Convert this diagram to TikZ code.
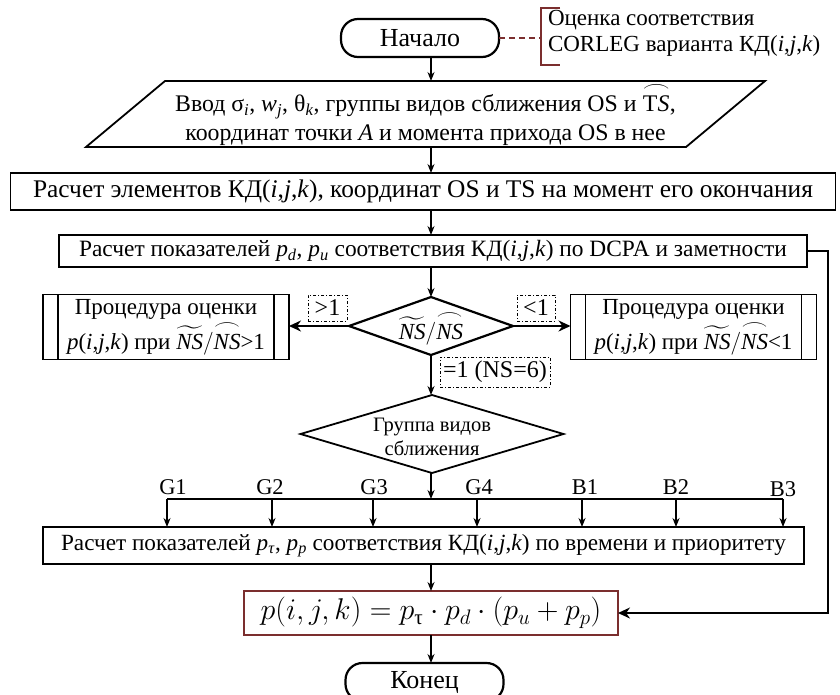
\RequirePackage{fix-cm}
\documentclass[tikz,border=0pt]{standalone}
\usepackage{fontspec}
\usepackage{amsmath}
\setmainfont{Liberation Serif}
\usetikzlibrary{shapes.geometric,arrows.meta}
\definecolor{dred}{HTML}{7B2E2E}
\newcommand{\iv}[2]{\textit{#1}\textsubscript{\textit{#2}}}
\newcommand{\arcover}[1]{\overset{\resizebox{1.15em}{0.28em}{$\frown$}}{#1}}
\newcommand{\nsr}{$\widetilde{\textit{NS}}/\arcover{\textit{NS}}$}
\newcommand{\ijk}{(\textit{i},\textit{j},\textit{k})}
\tikzset{
  every node/.style={inner sep=0pt, outer sep=0pt},
  box/.style={draw, line width=1.8pt, rectangle, align=center},
  term/.style={draw, line width=2.2pt, rounded corners=17pt, minimum width=158pt, minimum height=38pt, font=\fontsize{26}{28}\selectfont},
  conn/.style={line width=1.4pt, -{Stealth[length=9pt,width=7pt]}},
  bigarrow/.style={line width=2.4pt, -{Stealth[length=12pt,width=11pt]}},
  lab/.style={draw, line width=1pt, dash dot, minimum height=26pt, font=\fontsize{24}{26}\selectfont},
  glab/.style={font=\fontsize{22.5}{24}\selectfont},
  proc/.style={box, minimum width=246pt, minimum height=65pt, font=\fontsize{23}{28}\selectfont}
}
\begin{document}
\begin{tikzpicture}[x=1pt,y=-1pt]
\useasboundingbox (0,0) rectangle (840,694);
\clip (0,0) rectangle (840,694);
\fill[white] (0,0) rectangle (840,694);
\coordinate (sp) at (431,0);

% start and annotation
\node[term] (start) at (420,38) {Начало};
\coordinate (brk) at (541,38);
\draw[dred, line width=1.4pt, dash pattern=on 6pt off 4pt] (start.east) -- (brk);
\draw[dred, line width=1.4pt] (brk) ++(19,-30) -- ++(-19,0) -- ++(0,57) -- ++(19,0);
\node[anchor=west, align=left, font=\fontsize{23}{26}\selectfont] (ann) at (548,33) {Оценка соответствия\\CORLEG варианта КД\ijk};

% input parallelogram
\node[align=center, minimum width=679pt, minimum height=66pt, font=\fontsize{23.8}{29}\selectfont] (inp) at (425.5,114)
  {Ввод σ\textsubscript{\textit{i}}, \iv{w}{j}, θ\textsubscript{\textit{k}}, группы видов сближения OS и $\arcover{\text{T\textit{S}}}$,\\координат точки \textit{A} и момента прихода OS в нее};
\draw[line width=1.8pt] ([xshift=79pt]inp.north west) -- (inp.north east) -- ([xshift=-79pt]inp.south east) -- (inp.south west) -- cycle;

% calc boxes
\node[box, minimum width=825pt, minimum height=37pt, font=\fontsize{25.4}{27}\selectfont] (calc1) at (423,191.5)
  {Расчет элементов КД\ijk, координат OS и TS на момент его окончания};
\node[box, minimum width=748pt, minimum height=32pt, font=\fontsize{23.4}{25}\selectfont] (calc2) at (433,251)
  {Расчет показателей \iv{p}{d}, \iv{p}{u} соответствия КД\ijk{} по DCPA и заметности};

% decision 1
\node[draw, diamond, line width=2.2pt, shape aspect=2.8, minimum width=164pt, minimum height=58pt] (d1) at (431,326) {};
\node[font=\fontsize{23}{25}\selectfont] (d1t) at ([yshift=-2pt]d1.center) {\nsr};
\node[proc] (pl) at (166,327) {Процедура оценки\\\textit{p}\ijk{} при \nsr>1};
\node[proc] (pr) at (693.5,327) {Процедура оценки\\\textit{p}\ijk{} при \nsr<1};
\foreach \n in {pl,pr}{
  \draw[line width=1.8pt] ([xshift=15pt]\n.north west) -- ([xshift=15pt]\n.south west);
  \draw[line width=1.8pt] ([xshift=-15pt]\n.north east) -- ([xshift=-15pt]\n.south east);
}
\node[lab, minimum width=39pt] (lgt) at (327.5,308) {>1};
\node[lab, minimum width=38pt] (llt) at (536,308) {<1};
\node[lab, minimum width=110pt, minimum height=30pt] (leq) at (495,372) {=1 (NS=6)};

% decision 2
\node[draw, diamond, line width=1.8pt, shape aspect=3.37, minimum width=263pt, minimum height=78pt] (d2) at (432,434) {};
\node[align=center, font=\fontsize{20.5}{24}\selectfont] (d2t) at ([yshift=-3pt]d2.center) {Группа видов\\сближения};

% calc 3
\node[box, minimum width=761pt, minimum height=37pt, font=\fontsize{23.2}{25}\selectfont] (calc3) at (423.5,545.5)
  {Расчет показателей \iv{p}{τ}, \iv{p}{p} соответствия КД\ijk{} по времени и приоритету};

% bus
\coordinate (bus) at (432,499);
\coordinate (g1) at (167,499);
\coordinate (g2) at (272,499);
\coordinate (g3) at (373,499);
\coordinate (g4) at (477,499);
\coordinate (b1) at (582,499);
\coordinate (b2) at (676,499);
\coordinate (b3) at (783,499);
\draw[line width=1.4pt] (g1) -- (b3);
\foreach \c/\t/\dx/\dy in {g1/G1/6/0,g2/G2/-2/0,g3/G3/1/0,g4/G4/2/0,b1/B1/3/0,b2/B2/0/0,b3/B3/0/2}{
  \draw[conn] (\c) -- (\c |- calc3.north);
  \node[glab] (l\c) at ([xshift=\dx pt, yshift=12pt-\dy pt]\c) {\t};
}

% formula and end
\node[draw=dred, line width=1.4pt, minimum width=374pt, minimum height=44pt, font=\fontsize{30}{32}\selectfont] (form) at (431,613)
  {$p(i,j,k)=p_{\text{τ}}\cdot p_d\cdot(p_u+p_p)$};
\node[term] (end) at (424.5,682) {Конец};

% connectors
\draw[conn] (start.south -| sp) -- (inp.north -| sp);
\draw[conn] (inp.south -| sp) -- (calc1.north -| sp);
\draw[conn] (calc1.south -| sp) -- (calc2.north -| sp);
\draw[conn] (calc2.south -| sp) -- (d1.north -| sp);
\draw[conn] (d1.south -| sp) -- (d2.north -| sp);
\draw[conn] (d2.south -| sp) -- (bus -| sp);
\draw[conn] (calc3.south -| sp) -- (form.north -| sp);
\draw[conn] (form.south -| sp) -- (end.north -| sp);
\draw[bigarrow] (d1.west) -- (pl.east |- d1.west);
\draw[bigarrow] (d1.east) -- (pr.west |- d1.east);
\draw[bigarrow] (calc2.east) -- ++(21,0) |- (form.east);
\end{tikzpicture}
\end{document}
